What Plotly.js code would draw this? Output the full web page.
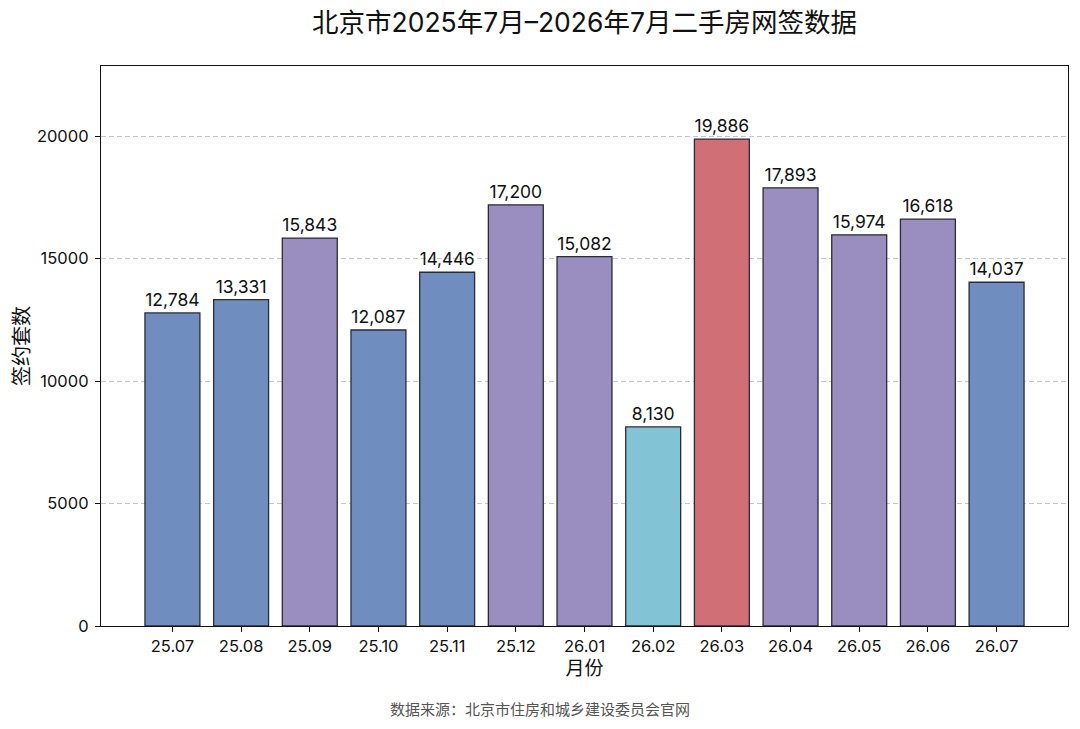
<!DOCTYPE html>
<html>
<head>
<meta charset="utf-8">
<script src="https://cdn.plot.ly/plotly-3.0.1.min.js"></script>
<style>html,body{margin:0;padding:0;background:#fff}#chart{width:1080px;height:729px}</style>
</head>
<body>
<div id="chart"></div>
<script>
const months = ["25.07","25.08","25.09","25.10","25.11","25.12","26.01","26.02","26.03","26.04","26.05","26.06","26.07"];
const signed = [12784,13331,15843,12087,14446,17200,15082,8130,19886,17893,15974,16618,14037];
const chartTitle = "北京市2025年7月–2026年7月二手房网签数据";
const sourceNote = "数据来源：北京市住房和城乡建设委员会官网";

const maxV = Math.max(...signed), minV = Math.min(...signed);
const colors = signed.map(v => v === maxV ? "#d07076" : v === minV ? "#82c3d6" : v >= 15000 ? "#9a8ec1" : "#6f8ebf");
const FONT = "Inter, 'Noto Sans CJK SC', sans-serif";

Plotly.newPlot("chart", [{
  type: "bar",
  x: months.map((m,i)=>i),
  y: signed,
  width: 0.8,
  marker: {color: colors, line: {color: "#2b2b38", width: 1.3}},
  texttemplate: "%{y:,}",
  textposition: "outside",
  cliponaxis: false,
  textfont: {family: FONT, size: 17.5, color: "#111"},
  hoverinfo: "x+y"
}], {
  width: 1080, height: 729,
  margin: {l: 101, r: 12, t: 66, b: 103},
  paper_bgcolor: "#fff", plot_bgcolor: "#fff",
  font: {family: FONT, color: "#111"},
  showlegend: false,
  title: {text: chartTitle, font: {family: FONT, size: 26.5, color: "#111"}, x: 0.5, xref: "paper", y: 1 - 23/729, yref: "container", yanchor: "middle"},
  xaxis: {
    range: [-1.04, 13.04], tickmode: "array", tickvals: months.map((m,i)=>i), ticktext: months,
    ticks: "outside", ticklen: 5, tickcolor: "#111", tickfont: {size: 16.5, family: FONT},
    showline: true, linecolor: "#111", linewidth: 1.2, mirror: true, showgrid: false, zeroline: false,
    title: {text: "月份", font: {size: 19, family: FONT}, standoff: 6}
  },
  yaxis: {
    range: [0, maxV * 1.15], tickvals: [0,5000,10000,15000,20000], tickformat: "d",
    ticks: "outside", ticklen: 5, tickcolor: "#111", tickfont: {size: 16.5, family: FONT},
    ticklabelstandoff: 3,
    showline: true, linecolor: "#111", linewidth: 1.2, mirror: true,
    showgrid: true, gridcolor: "#c8c8c8", griddash: "5px,3px", gridwidth: 1, zeroline: false,
    title: {text: "签约套数", font: {size: 20, family: FONT}, standoff: 1}
  },
  annotations: [{
    text: sourceNote, xref: "paper", yref: "paper", x: (540-101)/967, y: (626-709)/560,
    xanchor: "center", yanchor: "middle", showarrow: false,
    font: {size: 15, color: "#555", family: FONT}
  }]
}, {displayModeBar: false});
</script>
</body>
</html>
